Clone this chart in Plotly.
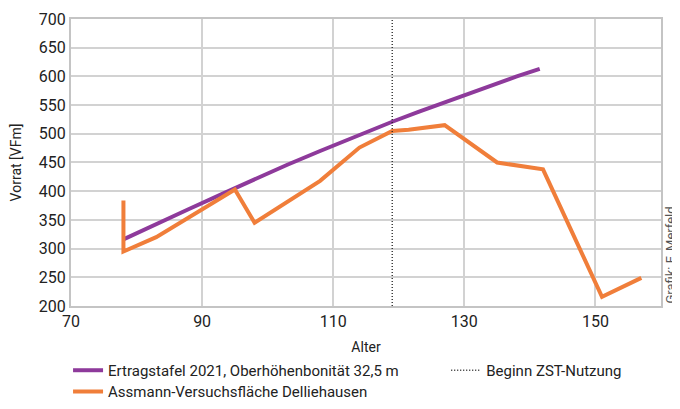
import plotly.graph_objects as go

# Data
ertrag_age = [78, 83, 88, 93, 98, 103, 108, 113, 119, 123, 127, 133, 138, 141.5]
ertrag_vorrat = [316, 343, 369, 395, 421, 446, 470, 494, 521, 538, 555, 580, 600, 613]

assmann_age = [78, 78, 83, 95, 98, 108, 114, 119, 121.5, 127, 135, 142, 151, 157]
assmann_vorrat = [384, 295, 320, 403, 345, 418, 476, 505, 507, 515, 450, 438, 216, 249]

zst_age = 119
y_range = [200, 700]
x_range = [70, 160]

purple = "#8e3a9b"
orange = "#f07e3a"
font_fam = "Roboto, sans-serif"

fig = go.Figure()
fig.add_trace(go.Scatter(x=ertrag_age, y=ertrag_vorrat, mode="lines",
                         line=dict(color=purple, width=4),
                         name="Ertragstafel 2021, Oberhöhenbonität 32,5 m",
                         legend="legend"))
fig.add_trace(go.Scatter(x=assmann_age, y=assmann_vorrat, mode="lines",
                         line=dict(color=orange, width=4),
                         name="Assmann-Versuchsfläche Delliehausen",
                         legend="legend3"))
fig.add_trace(go.Scatter(x=[zst_age, zst_age], y=y_range, mode="lines",
                         line=dict(color="#222222", width=1.3, dash="1px,2px"),
                         name="Beginn ZST-Nutzung", legend="legend2"))

leg_common = dict(orientation="v", xanchor="left",
                  font=dict(size=15), itemwidth=30, bgcolor="rgba(0,0,0,0)")

# page has an 8px body margin, so the figure is sized/offset to compensate;
# top margin 0 (space made with the y domain) so legends need no extra pad
fig.update_layout(
    width=672, height=401,
    margin=dict(l=63, r=19, t=0, b=103),
    plot_bgcolor="white", paper_bgcolor="white",
    font=dict(family=font_fam, color="#222222", size=14),
    xaxis=dict(range=x_range, tick0=70, dtick=20, showgrid=True,
               gridcolor="#d2d2d2", gridwidth=1.6, automargin=False,
               showline=True, linecolor="#c4c4c4", linewidth=2, mirror=True,
               tickfont=dict(size=16), ticks="", zeroline=False,
               title=dict(text="Alter", font=dict(size=14), standoff=12)),
    yaxis=dict(range=y_range, dtick=50, showgrid=True, domain=[0, 0.9631],
               gridcolor="#d2d2d2", gridwidth=1.6, automargin=False,
               showline=True, linecolor="#c4c4c4", linewidth=2, mirror=True,
               tickfont=dict(size=16), ticks="", zeroline=False,
               title=dict(text="Vorrat [VFm]", font=dict(size=14), standoff=16)),
    legend=dict(x=-0.005, y=-0.161, yanchor="top", **leg_common),
    legend3=dict(x=-0.005, y=-0.343, yanchor="bottom", **leg_common),
    legend2=dict(x=0.636, y=-0.161, yanchor="top", **leg_common),
    showlegend=True,
)

fig.add_annotation(text="Grafik: F. Merfeld", xref="paper", yref="paper",
                   x=1.0, y=0.0, xshift=9, xanchor="center", yanchor="bottom",
                   textangle=-90, showarrow=False,
                   font=dict(size=13, color="#555555"))

fig.write_html("out.html")
